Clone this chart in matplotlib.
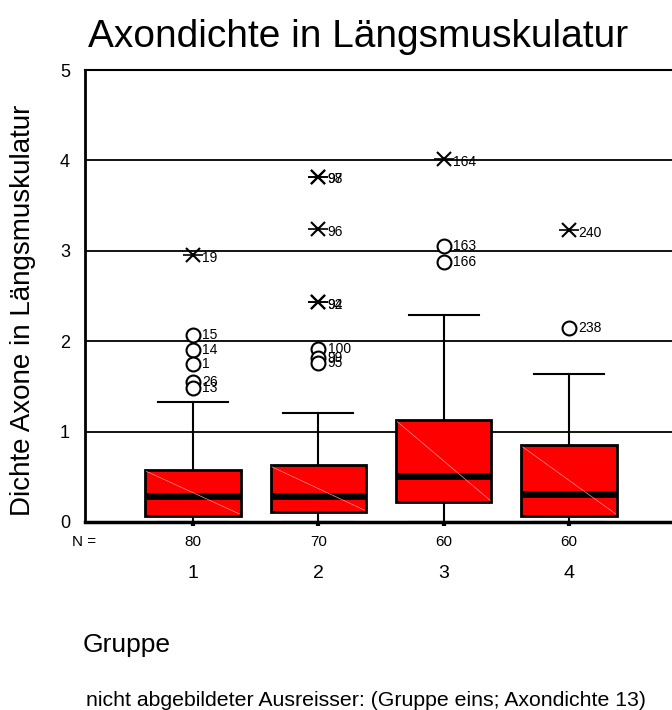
import matplotlib
matplotlib.use("Agg")
import matplotlib.pyplot as plt

plt.rcParams['font.family'] = ['Liberation Sans', 'DejaVu Sans']

# box statistics
groups = [1, 2, 3, 4]
counts = [80, 70, 60, 60]
q1 = [0.07, 0.11, 0.22, 0.07]
medians = [0.29, 0.29, 0.51, 0.31]
q3 = [0.58, 0.63, 1.13, 0.85]
whis_lo = [0.0, 0.0, 0.0, 0.0]
whis_hi = [1.33, 1.21, 2.29, 1.64]

# outliers (circles) and extremes (stars) with case labels
out_group = [1, 1, 1, 1, 1, 2, 2, 2, 3, 3, 4]
out_value = [2.07, 1.90, 1.75, 1.55, 1.48, 1.91, 1.81, 1.76, 3.05, 2.88, 2.15]
out_label = ["15", "14", "1", "26", "13", "100", "99", "95", "163", "166", "238"]

ext_group = [1, 2, 2, 2, 2, 2, 3, 4]
ext_value = [2.95, 3.82, 3.82, 3.24, 2.43, 2.43, 4.01, 3.23]
ext_label = ["19", "97", "98", "96", "92", "94", "164", "240"]

fig = plt.figure(figsize=(6.72, 7.1), dpi=100)
ax = fig.add_axes([0.127, 0.2648, 0.873, 0.6366])

stats = []
for i in range(len(groups)):
    stats.append(dict(med=medians[i], q1=q1[i], q3=q3[i],
                      whislo=whis_lo[i], whishi=whis_hi[i], fliers=[]))

for y in [1, 2, 3, 4]:
    ax.axhline(y, color='black', lw=1.3, zorder=1)

ax.bxp(stats, positions=groups, widths=0.76, showfliers=False, patch_artist=True,
       boxprops=dict(facecolor='#ff0000', edgecolor='black', linewidth=2),
       medianprops=dict(color='black', linewidth=5, solid_capstyle='butt'),
       whiskerprops=dict(color='black', linewidth=1.5),
       capprops=dict(color='black', linewidth=1.5), capwidths=0.56,
       zorder=3)

# faint diagonal seen inside the boxes
for i, g in enumerate(groups):
    ax.plot([g - 0.37, g + 0.37], [q3[i] - 0.02, q1[i] + 0.02],
            color='#ff9090', lw=0.5, zorder=4)

for g, v, lab in zip(out_group, out_value, out_label):
    ax.plot(g, v, marker='o', ms=10, mfc='white', mec='black', mew=1.5,
            ls='none', zorder=5)
    ax.text(g + 0.075, v, lab, fontsize=10, va='center', ha='left', zorder=6)

for g, v, lab in zip(ext_group, ext_value, ext_label):
    ax.plot(g, v, marker='x', ms=10, mec='black', mew=1.5, ls='none', zorder=5)
    ax.plot(g, v, marker='_', ms=14, mec='black', mew=1.2, ls='none', zorder=5)
    ax.text(g + 0.075, v - 0.03, lab, fontsize=10, va='center', ha='left', zorder=6)

ax.set_xlim(0.143, 4.82)
ax.set_ylim(0, 5)
ax.set_yticks([0, 1, 2, 3, 4, 5])
ax.set_yticklabels(["0", "1", "2", "3", "4", "5"], fontsize=13)
ax.tick_params(axis='y', length=0, pad=11)
ax.set_xticks(groups)
ax.set_xticklabels([])
ax.tick_params(axis='x', length=3, width=3, direction='out')

ax.spines['right'].set_visible(False)
ax.spines['left'].set_linewidth(2)
ax.spines['bottom'].set_linewidth(2.5)
ax.spines['top'].set_linewidth(1.5)

trans = ax.get_xaxis_transform()
fig.text(84 / 672, 1 - 542 / 710, "N =", fontsize=11, ha='center', va='center')
for g, n in zip(groups, counts):
    ax.text(g, -0.045, str(n), transform=trans, fontsize=11, ha='center', va='center')
    ax.text(g, -0.115, str(g), transform=trans, fontsize=14, ha='center', va='center')

fig.text(358 / 672, 1 - 47 / 710, "Axondichte in Längsmuskulatur", fontsize=28,
         ha='center', va='baseline')
fig.text(23 / 672, 1 - 310 / 710, "Dichte Axone in Längsmuskulatur", fontsize=20,
         rotation=90, ha='center', va='center')
fig.text(83 / 672, 1 - 645 / 710, "Gruppe", fontsize=19, ha='left', va='center')
fig.text(86 / 672, 1 - 700 / 710, "nicht abgebildeter Ausreisser: (Gruppe eins; Axondichte 13)",
         fontsize=15.3, ha='left', va='center')

fig.savefig("out.png", dpi=100)
